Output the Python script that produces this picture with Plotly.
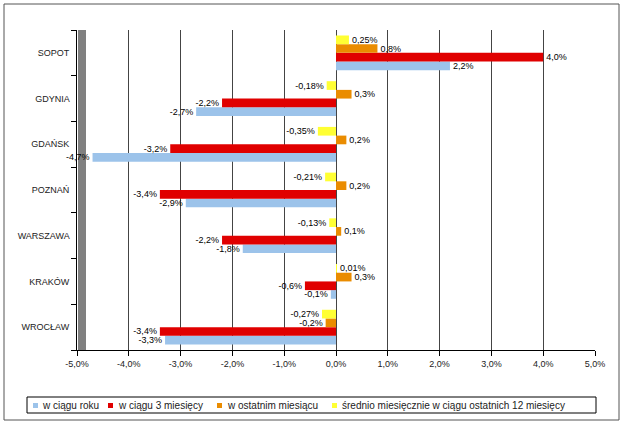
import plotly.graph_objects as go

cities = ["WROCŁAW", "KRAKÓW", "WARSZAWA", "POZNAŃ", "GDAŃSK", "GDYNIA", "SOPOT"]
series_names = ["w ciągu roku", "w ciągu 3 miesięcy", "w ostatnim miesiącu",
                "średnio miesięcznie w ciągu ostatnich 12 miesięcy"]
rok = [-3.3, -0.1, -1.8, -2.9, -4.7, -2.7, 2.2]
trzy_mies = [-3.4, -0.6, -2.2, -3.4, -3.2, -2.2, 4.0]
ostatni = [-0.2, 0.3, 0.1, 0.2, 0.2, 0.3, 0.8]
srednio = [-0.27, 0.01, -0.13, -0.21, -0.35, -0.18, 0.25]
decimals = [1, 1, 1, 2]
colors = ["#9cc3ea", "#e00000", "#ea8c00", "#ffff33"]
x_ticks = [-5, -4, -3, -2, -1, 0, 1, 2, 3, 4, 5]
x_tick_labels = ["-5,0%", "-4,0%", "-3,0%", "-2,0%", "-1,0%", "0,0%",
                 "1,0%", "2,0%", "3,0%", "4,0%", "5,0%"]

def fmt(v, d):
    return (f"{v:.{d}f}".replace(".", ",")) + "%"

fig = go.Figure()
for name, vals, col, d in zip(series_names, [rok, trzy_mies, ostatni, srednio], colors, decimals):
    fig.add_trace(go.Bar(
        y=cities, x=vals, name=name, orientation="h",
        marker=dict(color=col, line=dict(width=0)),
        text=[fmt(v, d) for v in vals], textposition="outside",
        textfont=dict(size=9, color="#000000", family="Arial"),
        cliponaxis=False, constraintext="none", showlegend=False,
    ))

L, R, T, B = 77, 30, 30, 75
W, H = 625, 425
pw, ph = W - L - R, H - T - B

def px(x):
    return (x - L) / pw

def py(y):
    return (H - B - y) / ph

shapes = [
    dict(type="rect", xref="paper", yref="paper",
         x0=px(4), x1=px(619), y0=py(420), y1=py(4),
         line=dict(color="#555", width=1), fillcolor="rgba(0,0,0,0)", layer="below"),
    dict(type="rect", xref="paper", yref="paper",
         x0=px(78), x1=px(86), y0=0, y1=1,
         line=dict(width=0), fillcolor="#808080", layer="below"),
    dict(type="rect", xref="paper", yref="paper",
         x0=px(27), x1=px(596), y0=py(413), y1=py(397),
         line=dict(color="#000", width=1), fillcolor="white", layer="above"),
]
annotations = []
# manual legend: square x-positions and text starts (pixels)
leg_sq_x = [33, 108, 217, 332]
leg_txt_x = [40, 116, 225, 340]
for name, col, sx, tx in zip(series_names, colors, leg_sq_x, leg_txt_x):
    shapes.append(dict(type="rect", xref="paper", yref="paper",
                       x0=px(sx), x1=px(sx + 5), y0=py(408), y1=py(403),
                       line=dict(width=0), fillcolor=col, layer="above"))
    annotations.append(dict(xref="paper", yref="paper", x=px(tx), y=py(405),
                            xanchor="left", yanchor="middle", showarrow=False,
                            text=name, font=dict(size=10, color="#222", family="Arial")))

fig.update_layout(
    width=W, height=H,
    margin=dict(l=L, r=R, t=T, b=B),
    paper_bgcolor="white", plot_bgcolor="white",
    barmode="group", bargap=0.24, bargroupgap=0,
    font=dict(family="Arial", size=9, color="#222"),
    showlegend=False,
    xaxis=dict(range=[-5, 5], tickvals=x_ticks, ticktext=x_tick_labels,
               showgrid=True, gridcolor="#444", gridwidth=1,
               zeroline=True, zerolinecolor="#444", zerolinewidth=1,
               showline=True, linecolor="#000", ticks="outside", ticklen=5,
               tickcolor="#000", tickfont=dict(size=9, color="#222"), automargin=False),
    yaxis=dict(categoryorder="array", categoryarray=cities,
               showline=True, linecolor="#000", ticks="outside", ticklen=5,
               tickson="boundaries", tickcolor="#000", automargin=False,
               tickfont=dict(size=9, color="#222"), ticksuffix="  "),
    shapes=shapes,
    annotations=annotations,
)
fig.write_html("out.html", config={"displayModeBar": False},
               post_script="document.body.style.margin='0';")
